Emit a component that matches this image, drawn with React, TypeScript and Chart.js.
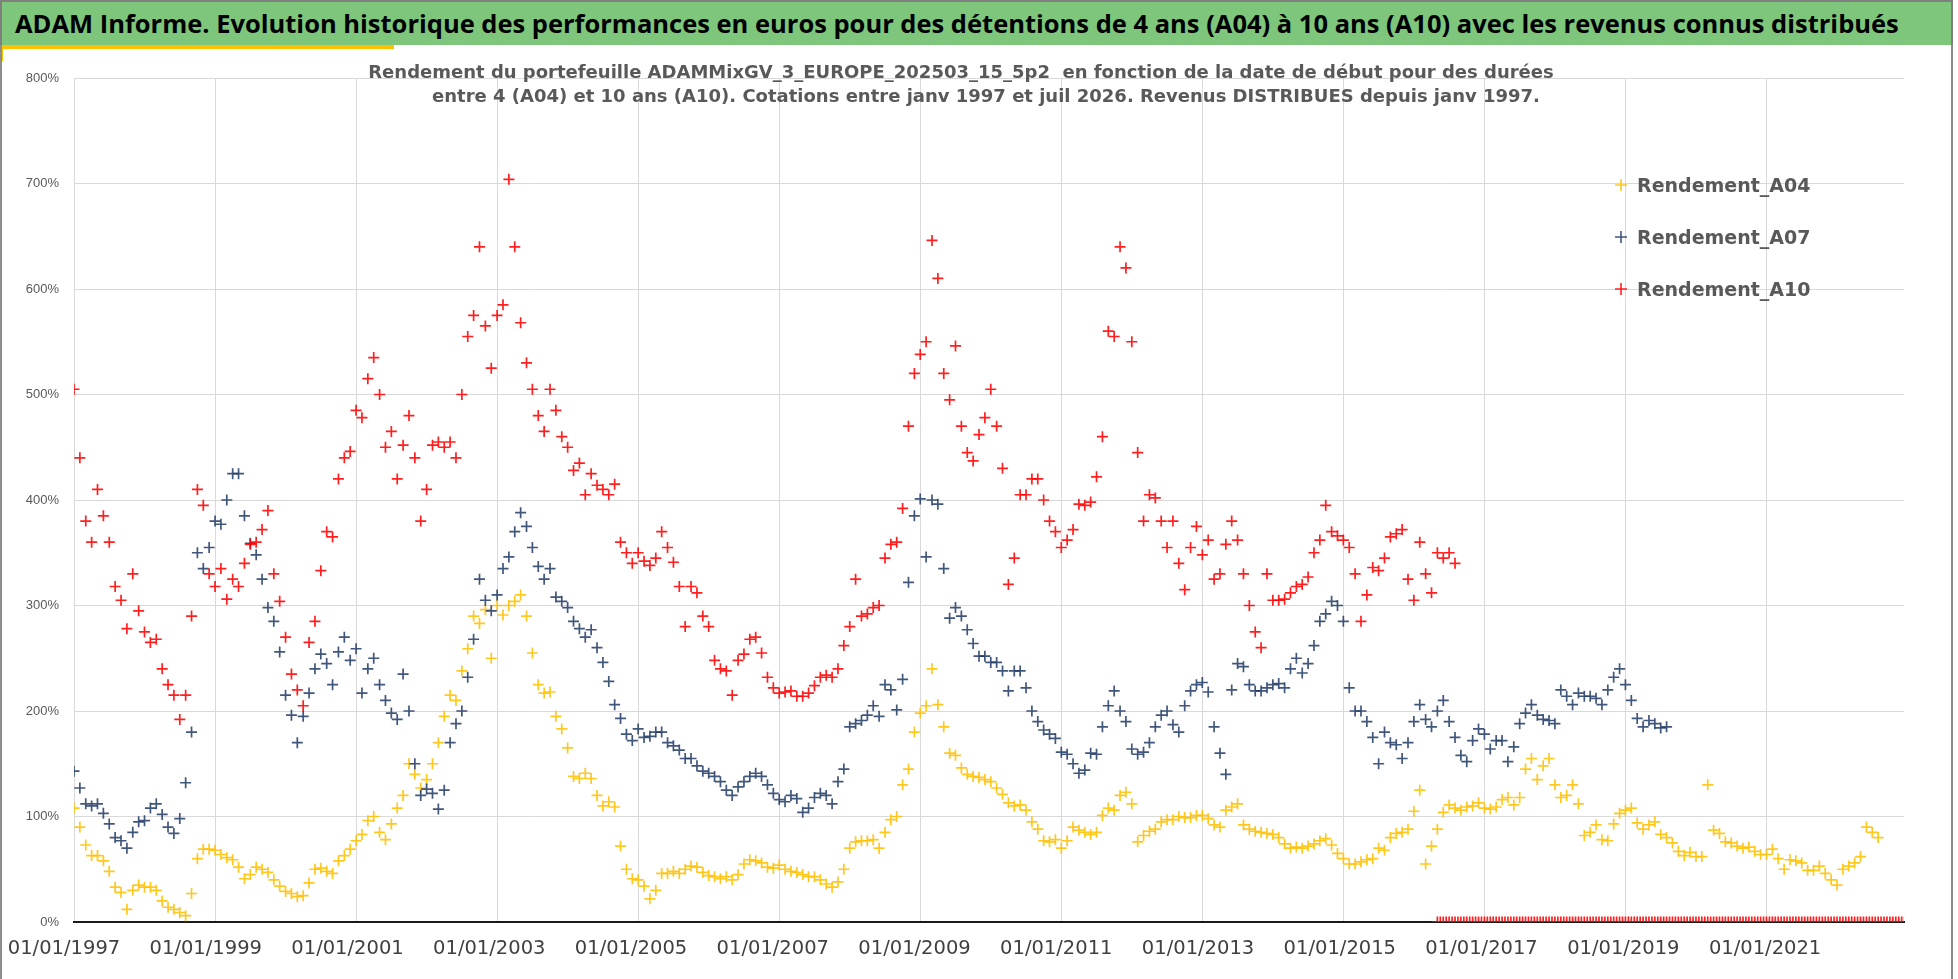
import { useEffect, useRef } from "react";
import { Chart, registerables } from "chart.js";
import type { ChartConfiguration } from "chart.js";

Chart.register(...registerables);

// Axe des dates : années écoulées depuis le 01/01/1997, un point par mois
const START_YEAR = 1997;
const X_MAX_YEARS = 25.95;
const X_STEP_YEARS = 2;
// les libellés de dates d'Excel sont un peu plus espacés que le quadrillage
const X_LABEL_YEARS = [0, 2, 4, 6, 8, 10, 12, 14, 16, 18, 20, 22, 24];
const X_LABEL_MIN = 0.141;
const X_LABEL_MAX = 25.96;
const Y_MAX = 800;
const Y_STEP = 100;

const TITLE =
  "ADAM Informe. Evolution historique des performances en euros pour des détentions de 4 ans (A04) à 10 ans (A10) avec les revenus connus distribués";
const SUBTITLE_1 =
  "Rendement du portefeuille ADAMMixGV_3_EUROPE_202503_15_5p2  en fonction de la date de début pour des durées";
const SUBTITLE_2 =
  "entre 4 (A04) et 10 ans (A10). Cotations entre janv 1997 et juil 2026. Revenus DISTRIBUES depuis janv 1997.";

const SERIES_LABELS = ["Rendement_A04", "Rendement_A07", "Rendement_A10"];
const SERIES_COLORS = ["rgba(255,192,0,0.88)", "rgba(32,56,100,0.85)", "rgba(255,0,0,0.88)"];

// Rendement en %, mensuel à partir de janv 1997
const a04 = [
  108, 90, 73, 63, 63, 58, 48, 33, 28, 12,
  30, 35, 33, 33, 30, 20, 14, 12, 9, 6,
  27, 60, 69, 69, 68, 64, 61, 59, 52, 41,
  45, 52, 50, 47, 40, 34, 29, 27, 24, 25,
  37, 50, 51, 48, 46, 58, 63, 69, 77, 83,
  96, 100, 85, 78, 93, 108, 120, 150, 140, 127,
  135, 150, 170, 195, 215, 210, 238, 259, 290, 283,
  296, 250, 300, 291, 300, 304, 310, 290, 255, 225,
  217, 218, 195, 183, 165, 138, 136, 141, 136, 120,
  110, 114, 109, 72, 50, 41, 40, 34, 22, 30,
  46, 46, 48, 46, 50, 53, 52, 47,
  44, 43, 41, 43, 40, 45, 55, 59, 58, 56, 52, 51,
  54, 50, 48, 47, 45, 43, 43, 40, 36, 33,
  38, 50, 70, 76, 77, 77, 78, 70, 85, 97,
  100, 130, 145, 180, 198, 205, 240, 206, 185, 160,
  158, 146, 140, 138, 137, 135, 133, 127, 121, 113,
  110, 111, 106, 95, 88, 77, 76, 78, 70, 77,
  90, 87, 85, 83, 85, 101, 108, 106, 120, 123,
  112, 76, 82, 86, 88, 95, 97, 97, 100, 99,
  99, 101, 101, 98, 92, 90, 106, 109, 112, 92,
  88, 86, 85, 84, 83, 80, 74, 70, 71, 70,
  72, 74, 77, 79, 73, 65, 60,
  55, 55, 57, 59, 60, 70, 68, 80, 84, 85,
  88, 105, 125, 55, 72, 88, 104, 111, 108, 106,
  109, 110, 113, 108, 107, 109, 116, 118, 111, 118,
  145, 155, 135, 148, 155, 130, 118, 120, 130, 112,
  82, 85, 92, 78, 77, 93, 103, 106, 108, 94,
  88, 92, 95, 83, 80, 75, 67, 63, 66, 62,
  62, 130, 87, 84, 76, 75, 72, 70, 71, 67,
  64, 64, 69, 60, 50, 59, 58, 56, 49, 49,
  53, 46, 40, 35, 50, 53, 56, 62, 90, 85, 80,
];

const a07 = [
  143, 127, 112, 110, 112, 103, 93, 80, 77, 70,
  85, 95, 96, 108, 112, 102, 90, 84, 98, 132,
  180, 350, 335, 355, 380, 377, 400, 425, 425, 385,
  359, 348, 325, 298, 285, 256, 215, 196, 170, 195,
  217, 240, 254, 245, 225, 256, 270, 248, 259, 217,
  240, 250, 225, 210, 198, 192, 235, 200, 150, 120,
  126, 122, 107, 125, 170, 188, 200, 232, 268, 325,
  305, 295, 310, 335, 346, 370, 388, 375, 355, 337,
  325, 335, 308, 304, 298, 285, 278, 270, 277, 260,
  246, 228, 206, 193, 178, 172, 183, 175, 176, 180,
  180, 170, 167, 163, 155, 155, 148, 143,
  141, 138, 133, 125, 120, 128, 133, 138, 141, 138, 130, 122,
  116, 114, 120, 117, 104, 108, 118, 122, 120, 112,
  133, 145, 185, 188, 191, 196, 205, 195, 225, 220,
  201, 230, 322, 385, 401, 346, 400, 396, 335, 288,
  298, 290, 277, 264, 252, 252, 246, 246, 238, 219,
  238, 238, 222, 200, 190, 182, 178, 174, 161, 159,
  150, 141, 144, 160, 159, 185, 205, 219, 200, 190,
  164, 159, 161, 170, 185, 196, 200, 187, 180, 205,
  219, 225, 227, 218, 185, 160, 140, 220, 245, 242,
  225, 219, 219, 222, 225, 226, 222, 240, 250, 236,
  245, 262, 285, 292, 304, 300, 285,
  222, 200, 200, 190, 175, 150, 180, 170, 168, 155,
  170, 190, 206, 192, 185, 200, 210, 190, 175, 158,
  152, 172, 183, 178, 164, 172, 172, 152, 166, 188,
  198, 206, 196, 192, 191, 188, 220, 214, 206, 217,
  214, 214, 212, 206, 220, 232, 240, 225, 210, 193,
  185, 191, 188, 184, 185,
];

const a10 = [
  505, 440, 380, 360, 410, 385, 360, 318, 305, 278,
  330, 295, 275, 265, 268, 240, 225, 215, 192, 215,
  290, 410, 395, 330, 318, 335, 306, 325, 318, 340,
  358, 360, 372, 390, 330, 304, 270, 235, 220, 205,
  265, 285, 333, 370, 365, 420, 440, 446, 485, 478,
  515, 535, 500, 450, 465, 420, 452, 480, 440, 380,
  410, 452, 455, 450, 455, 440, 500, 555, 575, 640,
  565, 525, 575, 585, 704, 640, 568, 530, 505, 480,
  465, 505, 485, 460, 450, 428, 435, 405, 425, 414,
  410, 405, 415, 360, 350, 340, 350, 342, 338, 345,
  370, 355, 341, 318, 280, 318, 312, 290,
  280, 248, 240, 238, 215, 248, 254, 268, 270, 255, 232, 222,
  217, 218, 219, 214, 214, 217, 224, 232, 234, 232,
  240, 262, 280, 325, 290, 292, 298, 300, 345, 358,
  360, 392, 470, 520, 538, 550, 646, 610, 520, 495,
  546, 470, 445, 437, 462, 478, 505, 470, 430, 320,
  345, 405, 405, 420, 420, 400, 380, 370, 355, 362,
  372, 396, 395, 398, 422, 460, 560, 555, 640, 620,
  550, 445, 380, 405, 402, 380, 355, 380, 340, 315,
  355, 375, 348, 362, 325, 330, 358, 380, 362, 330,
  300, 275, 260, 330, 305, 305, 306, 312, 318, 320,
  327, 350, 362, 395, 370, 366, 362,
  355, 330, 285, 310, 336, 333, 345, 365, 368, 372,
  325, 305, 360, 330, 312, 350, 345, 350, 340,
];

// A10 sans historique suffisant : valeur 0, tous les demi-mois, de mi-2016 à fin 2022
const A10_EMPTY_FIRST_MONTH = 232;
const a10Empty = [
  0, 0, 0, 0, 0, 0, 0, 0, 0, 0, 0, 0, 0, 0, 0, 0, 0, 0, 0, 0,
  0, 0, 0, 0, 0, 0, 0, 0, 0, 0, 0, 0, 0, 0, 0, 0, 0, 0, 0, 0,
  0, 0, 0, 0, 0, 0, 0, 0, 0, 0, 0, 0, 0, 0, 0, 0, 0, 0, 0, 0,
  0, 0, 0, 0, 0, 0, 0, 0, 0, 0, 0, 0, 0, 0, 0, 0, 0, 0, 0, 0,
  0, 0, 0, 0, 0, 0, 0, 0, 0, 0, 0, 0, 0, 0, 0, 0, 0, 0, 0, 0,
  0, 0, 0, 0, 0, 0, 0, 0, 0, 0, 0, 0, 0, 0, 0, 0, 0, 0, 0, 0,
  0, 0, 0, 0, 0, 0, 0, 0, 0, 0, 0, 0, 0, 0, 0, 0, 0, 0, 0, 0,
  0, 0, 0, 0, 0, 0, 0, 0, 0, 0, 0, 0, 0, 0, 0, 0, 0, 0, 0, 0,
];

const toPoints = (values: number[], firstMonth = 0, stepMonths = 1) =>
  values.map((v, i) => ({ x: (firstMonth + i * stepMonths) / 12, y: v }));

const seriesData = [
  toPoints(a04),
  toPoints(a07),
  [...toPoints(a10), ...toPoints(a10Empty, A10_EMPTY_FIRST_MONTH, 0.5)],
];

function LegendCross({ color }: { color: string }) {
  return (
    <svg width="12" height="12" style={{ display: "block" }}>
      <path d="M6 0V12M0 6H12" stroke={color} strokeWidth="1.6" />
    </svg>
  );
}

export default function App() {
  const canvasRef = useRef<HTMLCanvasElement | null>(null);

  useEffect(() => {
    const ctx = canvasRef.current!.getContext("2d")!;

    const config: ChartConfiguration<"scatter", { x: number; y: number }[]> = {
      type: "scatter",
      data: {
        datasets: SERIES_LABELS.map((label, i) => ({
          label,
          data: seriesData[i],
          showLine: false,
          pointStyle: "cross",
          pointRadius: 5.5,
          pointHoverRadius: 5.5,
          pointBorderWidth: 1.7,
          pointBorderColor: SERIES_COLORS[i],
          pointBackgroundColor: SERIES_COLORS[i],
          borderColor: SERIES_COLORS[i],
          backgroundColor: SERIES_COLORS[i],
          order: SERIES_LABELS.length - i, // A10 au premier plan
        })),
      },
      options: {
        responsive: true,
        maintainAspectRatio: false,
        animation: false,
        layout: { padding: { top: 78, right: 54, bottom: 0, left: 0 } },
        plugins: {
          legend: { display: false },
          tooltip: { enabled: false },
        },
        scales: {
          // quadrillage vertical + ligne d'axe
          x: {
            type: "linear",
            position: "bottom",
            weight: 0,
            min: 0,
            max: X_MAX_YEARS,
            grid: { color: "#d9d9d9", lineWidth: 1, drawTicks: false },
            border: { display: true, color: "#1a1a1a", width: 2 },
            ticks: { stepSize: X_STEP_YEARS, includeBounds: false, display: false },
            afterFit: (s) => {
              s.height = 0;
              s.paddingLeft = 0;
              s.paddingRight = 0;
            },
          },
          // libellés de dates
          xLabels: {
            type: "linear",
            position: "bottom",
            weight: 1,
            min: X_LABEL_MIN,
            max: X_LABEL_MAX,
            grid: { display: false, drawTicks: false },
            border: { display: false },
            afterBuildTicks: (s) => {
              s.ticks = X_LABEL_YEARS.map((value) => ({ value }));
            },
            ticks: {
              autoSkip: false,
              maxRotation: 0,
              padding: 15,
              color: "#404040",
              font: { family: "'DejaVu Sans'", size: 19.5 },
              callback: (v) => `01/01/${START_YEAR + Number(v)}`,
            },
            afterFit: (s) => {
              s.height = 57;
              s.paddingLeft = 0;
              s.paddingRight = 0;
            },
          },
          y: {
            type: "linear",
            min: 0,
            max: Y_MAX,
            grid: { color: "#d9d9d9", lineWidth: 1, drawTicks: false },
            border: { display: false },
            ticks: {
              stepSize: Y_STEP,
              padding: 15,
              color: "#595959",
              font: { family: "'Liberation Sans'", size: 13 },
              callback: (v) => `${v}%`,
            },
            afterFit: (s) => {
              s.width = 74;
            },
          },
        },
      },
    };

    const chart = new Chart(ctx, config);
    return () => chart.destroy();
  }, []);

  const subtitleStyle = {
    position: "absolute" as const,
    left: 0,
    textAlign: "center" as const,
    fontFamily: "'DejaVu Sans', sans-serif",
    fontWeight: 700,
    fontSize: 18,
    lineHeight: "24px",
    color: "#595959",
    whiteSpace: "pre" as const,
  };

  return (
    <div
      style={{
        position: "absolute",
        left: 0,
        top: 0,
        width: 1958,
        height: 979,
        background: "#ffffff",
        overflow: "hidden",
      }}
    >
      <div style={{ position: "absolute", left: 0, top: 0, width: 1958, height: 979 }}>
        <canvas ref={canvasRef} />
      </div>

      {/* bandeau titre */}
      <div
        style={{
          position: "absolute",
          left: 0,
          top: 0,
          width: 1953,
          height: 45,
          background: "#7dc67b",
          borderTop: "2px solid #7f7f7f",
          borderLeft: "2px solid #7f7f7f",
          borderRight: "2px solid #7f7f7f",
          boxSizing: "border-box",
          fontFamily: "'Open Sans', sans-serif",
          fontWeight: 700,
          fontSize: 25.5,
          lineHeight: "42px",
          color: "#000",
          paddingLeft: 13,
          whiteSpace: "nowrap",
        }}
      >
        {TITLE}
      </div>
      <div style={{ position: "absolute", left: 0, top: 45, width: 394, height: 4, background: "#ffc000" }} />
      <div style={{ position: "absolute", left: 0, top: 45, width: 3, height: 16, background: "#ffc000" }} />
      <div style={{ position: "absolute", left: 0, top: 45, width: 2, height: 934, background: "#8c8c8c" }} />
      <div style={{ position: "absolute", left: 1951, top: 45, width: 2, height: 934, background: "#8c8c8c" }} />

      {/* sous-titre */}
      <div style={{ ...subtitleStyle, top: 60, width: 1922 }}>{SUBTITLE_1}</div>
      <div style={{ ...subtitleStyle, top: 84, width: 1972 }}>{SUBTITLE_2}</div>

      {/* légende */}
      <div style={{ position: "absolute", left: 1615, top: 159 }}>
        {SERIES_LABELS.map((label, i) => (
          <div key={label} style={{ display: "flex", alignItems: "center", height: 52 }}>
            <LegendCross color={SERIES_COLORS[i]} />
            <span
              style={{
                marginLeft: 10,
                fontFamily: "'DejaVu Sans', sans-serif",
                fontWeight: 700,
                fontSize: 19,
                color: "#595959",
              }}
            >
              {label}
            </span>
          </div>
        ))}
      </div>
    </div>
  );
}
